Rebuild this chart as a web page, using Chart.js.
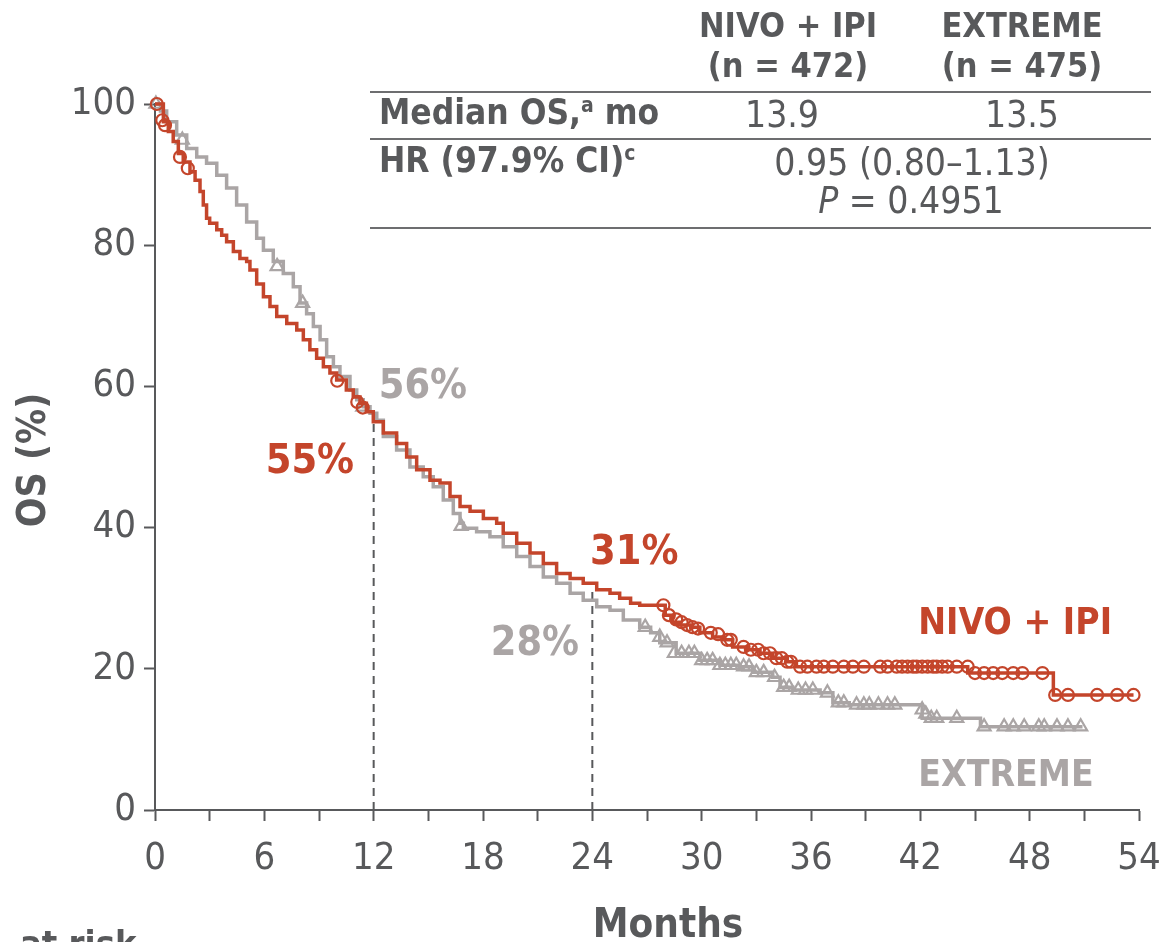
<!DOCTYPE html>
<html>
<head>
<meta charset="utf-8">
<script src="https://cdn.jsdelivr.net/npm/chart.js@4.4.1/dist/chart.umd.min.js"></script>
<style>
html,body{margin:0;padding:0;background:#fff;}
#wrap{position:relative;width:1163px;height:942px;overflow:hidden;background:#fff;}
#c{position:absolute;left:0;top:0;}
.t{position:absolute;font-family:"DejaVu Sans Condensed","Liberation Sans Narrow","DejaVu Sans",sans-serif;color:#58595b;white-space:nowrap;line-height:1;}
.b{font-weight:bold;}
.c{transform:translateX(-50%);}
.hl{position:absolute;left:370px;width:781px;height:2px;background:#6d6e70;}
sup{font-size:60%;vertical-align:0;position:relative;top:-0.55em;}
</style>
</head>
<body>
<div id="wrap">
<canvas id="c" width="1163" height="942"></canvas>
<div class="t b c" style="left:788px;top:8px;font-size:34px;">NIVO + IPI</div>
<div class="t b c" style="left:788px;top:48px;font-size:34px;">(n = 472)</div>
<div class="t b c" style="left:1022px;top:8px;font-size:34px;">EXTREME</div>
<div class="t b c" style="left:1022px;top:48px;font-size:34px;">(n = 475)</div>
<div class="hl" style="top:91px;"></div>
<div class="t b" style="left:379px;top:95px;font-size:35px;">Median OS,<sup>a</sup> mo</div>
<div class="t c" style="left:782px;top:96px;font-size:37px;">13.9</div>
<div class="t c" style="left:1022px;top:96px;font-size:37px;">13.5</div>
<div class="hl" style="top:138px;"></div>
<div class="t b" style="left:379px;top:143px;font-size:35px;">HR (97.9% CI)<sup>c</sup></div>
<div class="t c" style="left:912px;top:144px;font-size:37px;">0.95 (0.80–1.13)</div>
<div class="t c" style="left:911px;top:182px;font-size:37px;"><i>P</i> = 0.4951</div>
<div class="hl" style="top:227px;"></div>
</div>
<script>
// ---- Data ----
const xTickValues = [0, 6, 12, 18, 24, 30, 36, 42, 48, 54];
const yTickValues = [0, 20, 40, 60, 80, 100];

const seriesNames = ['NIVO + IPI', 'EXTREME'];

// NIVO + IPI Kaplan-Meier steps (month, OS %)
const nivoTime = [0, 0.46, 0.73, 1.0, 1.28, 1.55, 1.92, 2.2, 2.47, 2.65, 2.83, 3.0, 3.39, 3.66, 3.93, 4.3, 4.66, 5.03, 5.21, 5.58, 5.95, 6.31, 6.68, 7.23, 7.78, 8.14, 8.5, 8.87, 9.24, 9.6, 9.97, 10.5, 10.88, 11.25, 11.6, 11.98, 12.53, 13.26, 13.81, 14.36, 15.09, 15.64, 16.19, 16.74, 17.29, 18.02, 18.75, 19.11, 19.85, 20.58, 21.31, 22.04, 22.78, 23.5, 24.24, 24.97, 25.5, 26.1, 26.6, 28.0, 28.4, 28.8, 29.4, 29.9, 30.6, 31.2, 31.7, 32.5, 33.2, 33.9, 34.7, 35.2, 44.6, 49.3, 53.7];
const nivoSurv = [100, 97.5, 96.1, 94.7, 93.0, 91.8, 90.4, 89.2, 87.6, 85.7, 83.8, 83.1, 82.2, 81.4, 80.5, 79.1, 78.1, 77.7, 76.5, 74.5, 72.7, 71.3, 69.9, 68.9, 68.0, 66.6, 65.2, 64.0, 62.8, 61.9, 60.9, 59.5, 58.5, 57.6, 56.4, 55.0, 53.4, 51.9, 50.0, 48.2, 46.7, 46.3, 44.4, 43.0, 42.3, 41.3, 40.6, 39.2, 37.8, 36.4, 34.9, 33.5, 32.8, 32.1, 31.2, 30.7, 30.0, 29.3, 29.0, 27.6, 26.6, 26.2, 25.9, 25.1, 24.5, 24.1, 23.1, 22.7, 22.2, 21.5, 21.0, 20.3, 19.4, 16.3, 16.3];

// NIVO + IPI censor marks
const nivoCensorTime = [0.1, 0.4, 0.55, 1.37, 1.8, 10.0, 11.1, 11.4, 27.9, 28.2, 28.6, 28.9, 29.2, 29.5, 29.8, 30.5, 30.9, 31.4, 31.6, 32.3, 32.7, 33.1, 33.4, 33.75, 34.1, 34.4, 34.7, 34.9, 35.4, 35.8, 36.3, 36.7, 37.2, 37.8, 38.3, 38.9, 39.8, 40.2, 40.7, 41.0, 41.3, 41.6, 41.8, 42.1, 42.4, 42.7, 42.9, 43.2, 43.5, 44.0, 44.6, 45.0, 45.5, 46.0, 46.5, 47.1, 47.6, 48.7, 49.4, 50.1, 51.7, 52.8, 53.7];
const nivoCensorSurv = [100, 97.7, 97.0, 92.5, 90.9, 60.8, 57.8, 57.0, 29.0, 27.6, 27.0, 26.6, 26.2, 25.9, 25.7, 25.1, 24.9, 24.1, 24.1, 23.1, 22.7, 22.7, 22.2, 22.2, 21.5, 21.5, 21.0, 21.0, 20.3, 20.3, 20.3, 20.3, 20.3, 20.3, 20.3, 20.3, 20.3, 20.3, 20.3, 20.3, 20.3, 20.3, 20.3, 20.3, 20.3, 20.3, 20.3, 20.3, 20.3, 20.3, 20.3, 19.4, 19.4, 19.4, 19.4, 19.4, 19.4, 19.4, 16.3, 16.3, 16.3, 16.3, 16.3];

// EXTREME Kaplan-Meier steps (month, OS %)
const extremeTime = [0, 0.3, 0.64, 1.19, 1.74, 2.29, 2.83, 3.39, 3.93, 4.48, 5.03, 5.58, 5.95, 6.49, 7.04, 7.59, 7.96, 8.32, 8.69, 9.06, 9.42, 9.79, 10.15, 10.7, 11.07, 11.43, 11.8, 12.17, 12.53, 13.26, 13.99, 14.72, 15.27, 15.82, 16.37, 16.74, 16.92, 17.65, 18.38, 19.11, 19.85, 20.58, 21.31, 22.04, 22.78, 23.5, 24.24, 24.97, 25.7, 26.6, 27.2, 27.7, 28.6, 29.9, 31.0, 32.1, 32.8, 33.9, 34.3, 35.0, 36.5, 37.2, 38.1, 42.1, 45.3, 50.9];
const extremeSurv = [100, 99.0, 97.5, 95.6, 93.7, 92.5, 91.6, 89.9, 88.1, 85.7, 83.3, 81.0, 79.3, 77.7, 76.0, 74.1, 71.8, 70.3, 68.5, 66.6, 64.2, 62.8, 61.4, 59.5, 58.1, 57.1, 56.2, 55.2, 52.9, 51.0, 48.6, 47.2, 45.8, 43.9, 42.0, 40.6, 39.9, 39.4, 38.7, 37.3, 35.9, 34.5, 33.0, 32.1, 30.7, 29.7, 28.8, 28.3, 26.9, 25.9, 25.1, 23.7, 22.2, 21.2, 20.5, 20.3, 19.5, 18.8, 17.4, 17.0, 16.6, 15.2, 14.9, 13.0, 11.8, 11.8];

// EXTREME censor marks
const extremeCensorTime = [0.05, 1.5, 6.7, 8.1, 11.4, 16.8, 26.9, 27.7, 28.1, 28.5, 28.9, 29.3, 29.6, 30.0, 30.3, 30.6, 31.0, 31.3, 31.6, 31.9, 32.3, 32.6, 33.0, 33.4, 34.0, 34.5, 34.8, 35.3, 35.7, 36.1, 36.9, 37.5, 37.8, 38.5, 38.9, 39.2, 39.7, 40.2, 40.6, 42.1, 42.3, 42.6, 42.9, 44.0, 45.5, 46.6, 47.1, 47.7, 48.5, 48.8, 49.5, 50.1, 50.8];
const extremeCensorSurv = [100, 94.9, 77.0, 71.8, 57.1, 40.2, 25.9, 24.5, 23.7, 22.2, 22.2, 22.2, 22.2, 21.2, 21.2, 21.2, 20.5, 20.5, 20.5, 20.5, 20.3, 20.3, 19.5, 19.5, 18.8, 17.4, 17.4, 17.0, 17.0, 17.0, 16.6, 15.2, 15.2, 14.9, 14.9, 14.9, 14.9, 14.9, 14.9, 14.2, 13.6, 13.0, 13.0, 13.0, 11.8, 11.8, 11.8, 11.8, 11.8, 11.8, 11.8, 11.8, 11.8];

// Landmark guides (12 and 24 months)
const landmarkMonths = [12, 24];
const landmarkNivo = [55, 31];
const landmarkExtreme = [56, 28];

// ---- Styling ----
const RED = '#c4452b';
const GREY = '#aaa5a5';
const INK = '#58595b';
const FAM = '"DejaVu Sans Condensed", "Liberation Sans Narrow", "DejaVu Sans", sans-serif';

const pts = (xs, ys) => xs.map((x, i) => ({ x: x, y: ys[i] }));

const annotations = [
  { text: landmarkExtreme[0] + '%', x: 14.7, y: 59.9, color: GREY, size: 41 },
  { text: landmarkNivo[0] + '%', x: 8.5, y: 49.3, color: RED, size: 41 },
  { text: landmarkNivo[1] + '%', x: 26.3, y: 36.4, color: RED, size: 41 },
  { text: landmarkExtreme[1] + '%', x: 20.85, y: 23.4, color: GREY, size: 41 },
  { text: seriesNames[0], x: 47.2, y: 26.3, color: RED, size: 37 },
  { text: seriesNames[1], x: 46.7, y: 4.8, color: GREY, size: 37 }
];

const textPlugin = {
  id: 'textPlugin',
  afterDraw(chart) {
    const ctx = chart.ctx;
    const xs = chart.scales.x, ys = chart.scales.y;
    ctx.save();
    ctx.textAlign = 'center';
    ctx.textBaseline = 'middle';
    annotations.forEach(a => {
      ctx.font = 'bold ' + a.size + 'px ' + FAM;
      ctx.fillStyle = a.color;
      ctx.fillText(a.text, xs.getPixelForValue(a.x), ys.getPixelForValue(a.y));
    });
    // axis titles
    ctx.fillStyle = INK;
    ctx.font = 'bold 40px ' + FAM;
    ctx.textBaseline = 'alphabetic';
    ctx.fillText('Months', (xs.left + xs.right) / 2 + 21, 937);
    ctx.textAlign = 'left';
    ctx.font = 'bold 36px ' + FAM;
    ctx.fillText('at risk', 20, 956);
    ctx.translate(35, (ys.top + ys.bottom) / 2 + 3);
    ctx.rotate(-Math.PI / 2);
    ctx.textAlign = 'center';
    ctx.textBaseline = 'middle';
    ctx.font = 'bold 39px ' + FAM;
    ctx.fillText('OS (%)', 0, 0);
    ctx.restore();
  }
};

new Chart(document.getElementById('c'), {
  type: 'line',
  data: {
    datasets: [
      {
        label: seriesNames[0] + ' censored',
        data: pts(nivoCensorTime, nivoCensorSurv),
        showLine: false,
        pointStyle: 'circle',
        pointRadius: 6,
        pointBorderWidth: 2.2,
        pointBorderColor: RED,
        pointBackgroundColor: 'rgba(255,255,255,0)',
        clip: false,
        order: 0
      },
      {
        label: seriesNames[0],
        data: pts(nivoTime, nivoSurv),
        stepped: true,
        borderColor: RED,
        borderWidth: 3.5,
        pointRadius: 0,
        fill: false,
        clip: false,
        order: 1
      },
      {
        label: seriesNames[1] + ' censored',
        data: pts(extremeCensorTime, extremeCensorSurv),
        showLine: false,
        pointStyle: 'triangle',
        pointRadius: 7.5,
        pointBorderWidth: 2.2,
        pointBorderColor: GREY,
        pointBackgroundColor: 'rgba(255,255,255,0)',
        clip: false,
        order: 2
      },
      {
        label: seriesNames[1],
        data: pts(extremeTime, extremeSurv),
        stepped: true,
        borderColor: GREY,
        borderWidth: 3.5,
        pointRadius: 0,
        fill: false,
        clip: false,
        order: 3
      },
      {
        label: '12-month landmark',
        data: [{ x: landmarkMonths[0], y: 0 }, { x: landmarkMonths[0], y: landmarkNivo[0] }],
        borderColor: INK,
        borderWidth: 2,
        borderDash: [8, 6],
        pointRadius: 0,
        order: 4
      },
      {
        label: '24-month landmark',
        data: [{ x: landmarkMonths[1], y: 0 }, { x: landmarkMonths[1], y: landmarkNivo[1] }],
        borderColor: INK,
        borderWidth: 2,
        borderDash: [8, 6],
        pointRadius: 0,
        order: 4
      }
    ]
  },
  options: {
    responsive: false,
    animation: false,
    events: [],
    layout: { padding: { top: 104, right: 24, left: 0, bottom: 0 } },
    plugins: { legend: { display: false }, tooltip: { enabled: false } },
    scales: {
      x: {
        type: 'linear',
        min: 0,
        max: 54,
        ticks: {
          stepSize: 3,
          autoSkip: false,
          maxRotation: 0,
          color: INK,
          padding: 15,
          font: { family: FAM, size: 38 },
          callback: (v) => (xTickValues.includes(v) ? String(v) : '')
        },
        grid: { display: true, drawOnChartArea: false, drawTicks: true, tickLength: 11, tickWidth: 2, tickColor: INK },
        border: { display: true, color: INK, width: 2 },
        afterFit: (s) => { s.height = 132; s.paddingRight = 0; s.paddingLeft = 0; }
      },
      y: {
        type: 'linear',
        min: 0,
        max: 100,
        afterBuildTicks: (s) => { s.ticks = yTickValues.map(v => ({ value: v })); },
        ticks: {
          color: INK,
          padding: 8,
          font: { family: FAM, size: 38 }
        },
        grid: { display: true, drawOnChartArea: false, drawTicks: true, tickLength: 11, tickWidth: 2, tickColor: INK },
        border: { display: true, color: INK, width: 2 },
        afterFit: (s) => { s.width = 155; }
      }
    }
  },
  plugins: [textPlugin]
});
</script>
</body>
</html>
